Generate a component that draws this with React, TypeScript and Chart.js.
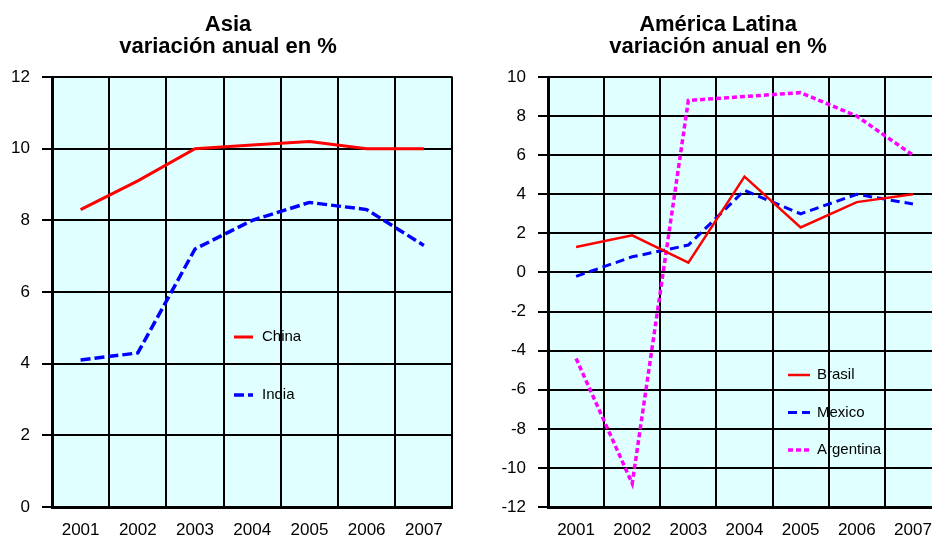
import React, { useEffect, useRef } from "react";
import { Chart, registerables } from "chart.js";

Chart.register(...registerables);

const years = ["2001", "2002", "2003", "2004", "2005", "2006", "2007"];

const asiaTitle = ["Asia", "variación anual en %"];
const latamTitle = ["América Latina", "variación anual en %"];

const china = [8.3, 9.1, 10.0, 10.1, 10.2, 10.0, 10.0];
const india = [4.1, 4.3, 7.2, 8.0, 8.5, 8.3, 7.3];

const brasil = [1.3, 1.9, 0.5, 4.9, 2.3, 3.6, 4.0];
const mexico = [-0.2, 0.8, 1.4, 4.2, 3.0, 4.0, 3.5];
const argentina = [-4.4, -10.8, 8.8, 9.0, 9.2, 8.0, 6.0];

const asiaYRange = [0, 12];
const latamYRange = [-12, 10];
const yStep = 2;

const FONT = "'Liberation Sans', Arial, Helvetica, sans-serif";

const plotBg = {
  id: "plotBg",
  beforeDraw(chart: any, _a: any, opts: any) {
    const { ctx, chartArea } = chart;
    ctx.save();
    ctx.fillStyle = opts.color;
    ctx.fillRect(chartArea.left, chartArea.top, chartArea.width, chartArea.height);
    ctx.restore();
  },
};

const titleLines = {
  id: "titleLines",
  afterDraw(chart: any, _a: any, opts: any) {
    const { ctx } = chart;
    ctx.save();
    ctx.font = `bold ${opts.size}px ${FONT}`;
    ctx.fillStyle = "#000";
    ctx.textAlign = "center";
    ctx.textBaseline = "middle";
    (opts.lines as string[]).forEach((l, i) => ctx.fillText(l, opts.x, opts.y + i * opts.gap));
    ctx.restore();
  },
};

const innerLegend = {
  id: "innerLegend",
  afterDatasetsDraw(chart: any, _a: any, opts: any) {
    const { ctx } = chart;
    ctx.save();
    chart.data.datasets.forEach((ds: any, i: number) => {
      const y = opts.y + i * opts.gap;
      ctx.strokeStyle = ds.borderColor;
      ctx.lineWidth = ds.borderWidth;
      ctx.setLineDash(ds.borderDash || []);
      ctx.beginPath();
      ctx.moveTo(opts.x, y);
      ctx.lineTo(opts.x + opts.len, y);
      ctx.stroke();
      ctx.setLineDash([]);
      ctx.fillStyle = "#000";
      ctx.font = `${opts.size}px ${FONT}`;
      ctx.textBaseline = "middle";
      ctx.textAlign = "left";
      ctx.fillText(ds.label, opts.x + opts.len + opts.textGap, y);
    });
    ctx.restore();
  },
};

function makeOptions(yRange: number[], yWidth: number, padRight: number, title: any, legend: any) {
  return {
    responsive: false,
    animation: false,
    devicePixelRatio: 1,
    layout: { padding: { top: 77, right: padRight, left: 0, bottom: 0 } },
    plugins: {
      legend: { display: false },
      tooltip: { enabled: false },
      title: { display: false },
      plotBg: { color: "#E0FFFF" },
      titleLines: title,
      innerLegend: legend,
    },
    elements: { point: { radius: 0 }, line: { tension: 0 } },
    scales: {
      x: {
        offset: true,
        grid: { offset: true, color: "#000", lineWidth: 2, drawTicks: false },
        border: { color: "#000", width: 3 },
        ticks: {
          color: "#000",
          font: { family: FONT, size: 17 },
          padding: 13,
          maxRotation: 0,
          autoSkip: false,
        },
        afterFit: (s: any) => {
          s.height = 31;
        },
      },
      y: {
        min: yRange[0],
        max: yRange[1],
        grid: { color: "#000", lineWidth: 2, drawTicks: true, tickLength: 10, tickColor: "#000", tickWidth: 2 },
        border: { color: "#000", width: 3 },
        ticks: {
          stepSize: yStep,
          color: "#000",
          font: { family: FONT, size: 17 },
          padding: 12,
          callback: (v: any) => String(v),
        },
        afterFit: (s: any) => {
          s.width = yWidth;
        },
      },
    },
  };
}

function ChartCanvas({ config, style, width, height }: any) {
  const ref = useRef<HTMLCanvasElement | null>(null);
  useEffect(() => {
    if (!ref.current) return;
    const chart = new Chart(ref.current, config);
    return () => chart.destroy();
  }, []);
  return <canvas ref={ref} width={width} height={height} style={{ position: "absolute", top: 0, ...style, width, height }} />;
}

export default function App() {
  const asiaConfig: any = {
    type: "line",
    data: {
      labels: years,
      datasets: [
        { label: "China", data: china, borderColor: "#FF0000", borderWidth: 3, borderDash: [] },
        { label: "India", data: india, borderColor: "#0000FF", borderWidth: 3.5, borderDash: [10, 4] },
      ],
    },
    options: makeOptions(
      asiaYRange,
      52,
      3,
      { lines: asiaTitle, x: 228, y: 25, gap: 22, size: 22 },
      { x: 234, y: 337, gap: 58, len: 19, textGap: 9, size: 15 }
    ),
    plugins: [plotBg, titleLines, innerLegend],
  };

  const latamConfig: any = {
    type: "line",
    data: {
      labels: years,
      datasets: [
        { label: "Brasil", data: brasil, borderColor: "#FF0000", borderWidth: 2.5, borderDash: [] },
        { label: "Mexico", data: mexico, borderColor: "#0000FF", borderWidth: 3, borderDash: [9, 5] },
        { label: "Argentina", data: argentina, borderColor: "#FF00FF", borderWidth: 3.5, borderDash: [5, 3] },
      ],
    },
    options: makeOptions(
      latamYRange,
      82,
      29,
      { lines: latamTitle, x: 252, y: 25, gap: 22, size: 22 },
      { x: 322, y: 375, gap: 37.5, len: 22, textGap: 7, size: 15 }
    ),
    plugins: [plotBg, titleLines, innerLegend],
  };

  return (
    <div
      style={{
        position: "fixed",
        left: 0,
        top: 0,
        width: 932,
        height: 538,
        overflow: "hidden",
        background: "#FFFFFF",
      }}
    >
      <ChartCanvas config={asiaConfig} width={456} height={538} style={{ left: 0 }} />
      <ChartCanvas config={latamConfig} width={504} height={538} style={{ left: 466 }} />
    </div>
  );
}
